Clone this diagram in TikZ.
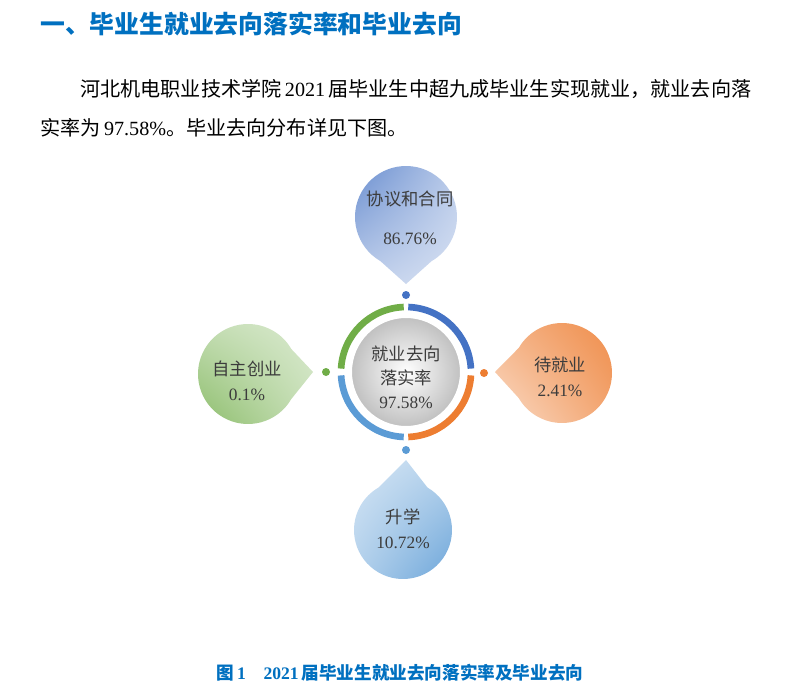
\documentclass[tikz,border=0pt]{standalone}
\usepackage{fontspec}
\setmainfont{Liberation Serif}
\newfontfamily\cjk{Noto Sans CJK SC}
\usetikzlibrary{calc,shadings}
\definecolor{ttl}{RGB}{0,112,192}
\definecolor{cblue}{RGB}{68,114,196}
\definecolor{corange}{RGB}{237,125,49}
\definecolor{clblue}{RGB}{91,155,213}
\definecolor{cgreen}{RGB}{112,173,71}
\definecolor{txt}{RGB}{60,60,60}
\begin{document}
\begin{tikzpicture}[x=0.75pt,y=-0.75pt,
  lbl/.style={text=txt,font=\fontsize{13pt}{15pt}\selectfont,align=center,inner sep=0pt},
  dotnode/.style={circle,inner sep=0pt,minimum size=6pt}]
\useasboundingbox (0,0) rectangle (807,696);
\fill[white] (0,0) rectangle (807,696);
\node[anchor=west,text=ttl,font=\cjk\bfseries\fontsize{18.6pt}{22pt}\selectfont,inner sep=0pt] (title) at (40,24) {一、毕业生就业去向落实率和毕业去向};
\node[anchor=west,font=\fontsize{15.1pt}{18pt}\selectfont,inner sep=0pt] (p1) at (80,89) {{\cjk 河北机电职业技术学院}\,2021\,{\cjk 届毕业生中超九成毕业生实现就业，就业去向落}};
\node[anchor=west,font=\fontsize{15.1pt}{18pt}\selectfont,inner sep=0pt] (p2) at (40,128) {{\cjk 实率为}\,97.58\%{\cjk 。毕业去向分布详见下图。}};
\node[text=ttl,font=\bfseries\fontsize{13.2pt}{16pt}\selectfont,inner sep=0pt] (cap) at (400,673) {{\cjk 图}\,1\quad 2021\,{\cjk 届毕业生就业去向落实率及毕业去向}};
% ring
\def\cx{406}\def\cy{372}
\foreach \a/\b/\c in {3/88/cblue,-88/-3/corange,-177/-92/clblue,92/177/cgreen}
  \draw[\c,line width=5pt] ($(\cx,\cy)+(-\a:65)$) arc[start angle=-\a,end angle=-\b,radius=65];
\shade[inner color=white,outer color=black!25,draw=white,line width=3pt] (\cx,\cy) circle (56);
\node[lbl] (center) at (\cx,377) {{\cjk 就业去向}\\[3pt]{\cjk 落实率}\\[3pt]97.58\%};
% bubbles: tip -- tangent point -- arc -- cycle
\shade[upper left=cblue!85,upper right=cblue!35,lower left=cblue!35,lower right=cblue!20]
  (406,284) -- ($(406,217)+(120:51)$) arc[start angle=120,end angle=420,radius=51] -- cycle;
\shade[upper left=corange!60,upper right=corange!90,lower left=corange!25,lower right=corange!70]
  (495,372) -- ($(562,373)+(210:50)$) arc[start angle=210,end angle=510,radius=50] -- cycle;
\shade[upper left=cgreen!40,upper right=cgreen!25,lower left=cgreen!85,lower right=cgreen!40]
  (313,372) -- ($(248,374)+(30:50)$) arc[start angle=30,end angle=330,radius=50] -- cycle;
\shade[upper left=clblue!25,upper right=clblue!45,lower left=clblue!45,lower right=clblue!95]
  (406,460) -- ($(403,530)+(300:49)$) arc[start angle=300,end angle=600,radius=49] -- cycle;
\node[dotnode,fill=cblue] (dtop) at (406,295) {};
\node[dotnode,fill=corange] (dright) at (484,373) {};
\node[dotnode,fill=cgreen] (dleft) at (326,372) {};
\node[dotnode,fill=clblue] (dbot) at (406,450) {};
\node[lbl] (ltop) at (410,218) {{\cjk 协议和合同}\\[14pt]86.76\%};
\node[lbl] (lright) at (560,377) {{\cjk 待就业}\\[4pt]2.41\%};
\node[lbl] (lleft) at (247,381) {{\cjk 自主创业}\\[4pt]0.1\%};
\node[lbl] (lbot) at (403,529) {{\cjk 升学}\\[4pt]10.72\%};
\end{tikzpicture}
\end{document}
